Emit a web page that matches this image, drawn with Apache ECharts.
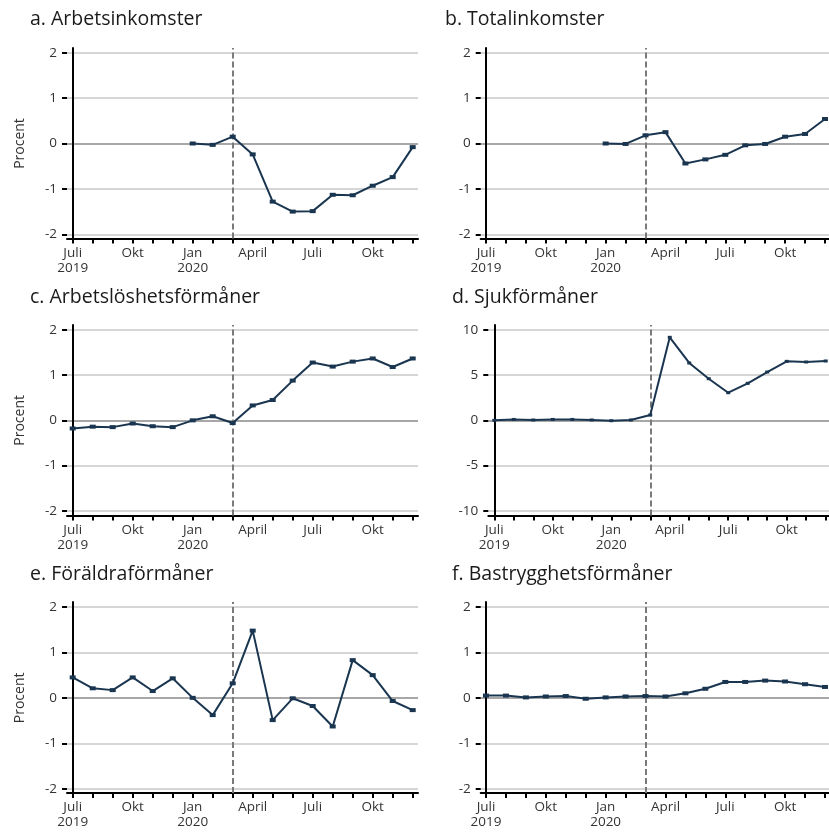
<!DOCTYPE html>
<html>
<head>
<meta charset="utf-8">
<script src="https://cdn.jsdelivr.net/npm/echarts@6/dist/echarts.min.js"></script>
<style>
  html, body { margin: 0; padding: 0; background: #fff; }
  #chart { width: 829px; height: 834px; }
</style>
</head>
<body>
<div id="chart"></div>
<script>
// månader juli 2019 - december 2020
const months = ['2019-07','2019-08','2019-09','2019-10','2019-11','2019-12',
  '2020-01','2020-02','2020-03','2020-04','2020-05','2020-06',
  '2020-07','2020-08','2020-09','2020-10','2020-11','2020-12']
const tickLabels = ['Juli\n2019','','','Okt','','','Jan\n2020','','','April','','','Juli','','','Okt','','']
const eventIndex = 8 // mars 2020

const titles = ['a. Arbetsinkomster','b. Totalinkomster','c. Arbetslöshetsförmåner',
  'd. Sjukförmåner','e. Föräldraförmåner','f. Bastrygghetsförmåner']

const arbetsinkomster = [null,null,null,null,null,null,
  0,-0.03,0.15,-0.24,-1.28,-1.50,-1.49,-1.13,-1.14,-0.93,-0.74,-0.08]
const totalinkomster = [null,null,null,null,null,null,
  0,-0.01,0.18,0.25,-0.44,-0.35,-0.25,-0.04,-0.01,0.15,0.21,0.54]
const arbetsloshet = [-0.18,-0.14,-0.15,-0.07,-0.13,-0.15,
  0,0.09,-0.06,0.33,0.45,0.88,1.28,1.19,1.30,1.37,1.18,1.37]
const sjuk = [0,0.1,0.04,0.1,0.1,0.04,
  -0.04,0.04,0.59,9.19,6.35,4.61,3.06,4.1,5.35,6.53,6.46,6.57]
const foraldra = [0.45,0.21,0.17,0.45,0.15,0.43,
  0,-0.38,0.32,1.48,-0.49,-0.01,-0.18,-0.63,0.83,0.50,-0.07,-0.27]
const bastrygghet = [0.05,0.05,0.01,0.03,0.04,-0.02,
  0.01,0.03,0.04,0.03,0.1,0.2,0.35,0.35,0.38,0.36,0.30,0.24]

const panelData = [arbetsinkomster, totalinkomster, arbetsloshet, sjuk, foraldra, bastrygghet]
const yTicks = [[-2,2,1],[-2,2,1],[-2,2,1],[-10,10,5],[-2,2,1],[-2,2,1]]

// pixelpositioner för varje panel
const layout = [
  { left: 67,    right: 418, top: 48,  gTop: 52.7,  gBottom: 234.3, bottom: 238.5, first: 72.7,  last: 412.7, tx: 30,  ty: 9 },
  { left: 480.7, right: 829, top: 48,  gTop: 52.7,  gBottom: 234.3, bottom: 238.5, first: 486,   last: 825,   tx: 445, ty: 9 },
  { left: 67,    right: 418, top: 325, gTop: 330,   gBottom: 510.7, bottom: 515.5, first: 72.7,  last: 412.7, tx: 30,  ty: 287 },
  { left: 488.3, right: 829, top: 325, gTop: 330,   gBottom: 510.7, bottom: 515.5, first: 494.3, last: 825.7, tx: 452, ty: 287 },
  { left: 67,    right: 418, top: 602, gTop: 607,   gBottom: 788.7, bottom: 793,   first: 72.7,  last: 412.7, tx: 30,  ty: 564 },
  { left: 480.7, right: 829, top: 602, gTop: 607,   gBottom: 788.7, bottom: 793,   first: 486,   last: 825,   tx: 452, ty: 564 }
]

const FONT = '"Open Sans", "Noto Sans", sans-serif'
const LINE = '#1a3550'
const GRID = '#c8c8c8'
const ZERO = '#8a8a8a'

const grid = [], xAxis = [], yAxis = [], series = [], title = []

layout.forEach((p, i) => {
  const [lo, hi, step] = yTicks[i]
  const xStep = (p.last - p.first) / (months.length - 1)
  const unit = (p.gBottom - p.gTop) / (hi - lo)
  const g = i * 3

  title.push({
    text: titles[i], left: p.tx, top: p.ty, padding: 0,
    textStyle: { fontFamily: FONT, fontSize: 19.5, fontWeight: 'normal', color: '#1a1a1a' }
  })

  // A: axellinjer + serie
  grid.push({ left: p.left, top: p.top, width: p.right - p.left, height: p.bottom - p.top })
  xAxis.push({
    gridIndex: g, type: 'value',
    min: -(p.first - p.left) / xStep,
    max: months.length - 1 + (p.right - p.last) / xStep,
    axisLine: { show: true, onZero: false, lineStyle: { color: '#000', width: 2 } },
    axisTick: { show: false }, axisLabel: { show: false }, splitLine: { show: false }
  })
  yAxis.push({
    gridIndex: g, type: 'value',
    min: lo - (p.bottom - p.gBottom) / unit,
    max: hi + (p.gTop - p.top) / unit,
    axisLine: { show: true, lineStyle: { color: '#000', width: 2 } },
    axisTick: { show: false }, axisLabel: { show: false }, splitLine: { show: false }
  })

  // B: y-etiketter och rutnät
  grid.push({ left: p.left, top: p.gTop, width: p.right - p.left, height: p.gBottom - p.gTop })
  xAxis.push({ gridIndex: g + 1, type: 'value', show: false, min: 0, max: 1 })
  yAxis.push({
    gridIndex: g + 1, type: 'value', min: lo, max: hi, interval: step,
    name: i % 2 === 0 ? 'Procent' : '',
    nameLocation: 'middle', nameGap: 40,
    nameTextStyle: { fontFamily: FONT, fontSize: 14, color: '#333' },
    axisLine: { show: false },
    axisTick: { show: true, length: 5, lineStyle: { color: '#000', width: 2 } },
    axisLabel: { fontFamily: FONT, fontSize: 13.5, color: '#333', margin: 10 },
    splitLine: { show: true, lineStyle: { color: [GRID, GRID, ZERO, GRID, GRID], width: 1.6 } }
  })

  // C: x-tickmarkeringar och etiketter
  grid.push({ left: p.first, top: p.top, width: p.last - p.first, height: p.bottom - p.top })
  xAxis.push({
    gridIndex: g + 2, type: 'category', boundaryGap: false, data: tickLabels,
    axisLine: { show: false },
    axisTick: { show: true, interval: 0, length: 5, lineStyle: { color: '#000', width: 2 } },
    axisLabel: { interval: 0, fontFamily: FONT, fontSize: 13.5, color: '#333', lineHeight: 15, margin: 7 },
    splitLine: { show: false }
  })
  yAxis.push({ gridIndex: g + 2, type: 'value', show: false })

  series.push({
    type: 'line', xAxisIndex: g, yAxisIndex: g,
    data: panelData[i].map((v, k) => (v === null ? null : [k, v])).filter(d => d !== null),
    symbol: 'rect', symbolSize: i === 3 ? [4, 3] : [6, 4],
    lineStyle: { color: LINE, width: 2 },
    itemStyle: { color: LINE },
    clip: false, z: 5, animation: false,
    markLine: {
      silent: true, symbol: 'none', label: { show: false },
      lineStyle: { color: '#7a7a7a', type: [6, 3], width: 2 },
      data: [{ xAxis: eventIndex }]
    }
  })
})

const chart = echarts.init(document.getElementById('chart'))
chart.setOption({ animation: false, title, grid, xAxis, yAxis, series })
</script>
</body>
</html>
